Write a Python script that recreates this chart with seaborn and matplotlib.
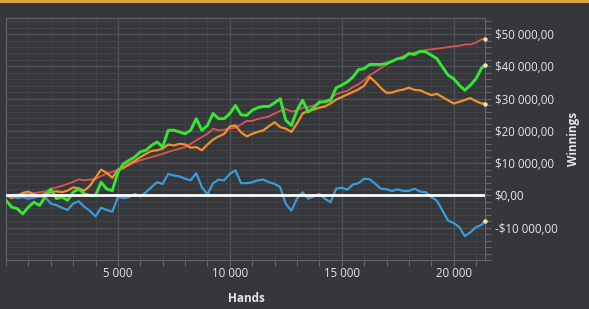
import numpy as np
import pandas as pd
import matplotlib
matplotlib.use("Agg")
import matplotlib.pyplot as plt
import matplotlib.ticker as mticker
import seaborn as sns

# Hands played (x axis), sampled every 250 hands
hands = list(range(0, 21500, 250)) + [21400]

red = [0, 200, 300, 500, 600, 700, 1000, 1200, 2000, 2500, 3000, 3600, 4200, 5000, 4700, 4900,
       5200, 6000, 6800, 7300, 8000, 8800, 9300, 10300, 10900, 11400, 11900, 12400, 12900, 13500,
       14000, 14500, 15000, 16000, 17100, 18100, 19100, 20700, 20200, 20400, 20700, 21000, 22000,
       23100, 23100, 23700, 24100, 24500, 25400, 26200, 26800, 26000, 26400, 27200, 27400, 27900,
       28500, 29300, 30000, 31400, 32000, 32400, 33600, 34500, 35700, 37300, 38300, 39500, 40600,
       41600, 42400, 43200, 43700, 44300, 44700, 45100, 45300, 45500, 45700, 46000, 46200, 46400,
       46800, 46800, 47400, 48400, 48600]

green = [-1500, -3600, -4100, -5700, -3600, -2100, -3100, -500, 2000, -1000, -500, -1500, 1000,
         2000, 500, 0, 0, 4100, 2000, 1500, 7200, 9800, 10900, 11900, 13500, 14000, 15500, 16600,
         15000, 20200, 20200, 19700, 19100, 20200, 23800, 20200, 21700, 25400, 23800, 23800, 25400,
         27900, 25000, 24800, 26400, 27200, 27600, 27600, 28700, 30000, 23300, 21700, 26400, 29500,
         25900, 27200, 29000, 29000, 29500, 33400, 34200, 35200, 36700, 39000, 39300, 40600, 40600,
         40600, 40900, 41600, 42400, 42600, 44000, 43700, 44700, 44500, 43500, 42400, 39800, 37300,
         36200, 34200, 32600, 34200, 36200, 39500, 40400]

orange = [0, -800, -300, 800, 1200, 300, -200, 600, 1000, 1300, 1000, 1500, 2500, 2200, 1500,
          3000, 5500, 8000, 7000, 5500, 8000, 8500, 9800, 10700, 11900, 12900, 13800, 14000, 14500,
          15800, 15500, 16000, 15800, 14800, 15000, 14000, 15800, 17300, 18300, 19100, 21400, 21700,
          19600, 18300, 19100, 19700, 20200, 21500, 22700, 21200, 20700, 19700, 22300, 25400, 26200,
          26600, 27200, 27600, 28500, 29700, 30500, 31300, 32100, 32900, 34000, 36700, 35200, 33300,
          31800, 31900, 32500, 32800, 33400, 32700, 32600, 31800, 31100, 31500, 30500, 29500, 28500,
          29000, 29600, 30200, 29200, 28500, 28500]

blue = [0, -300, -800, -500, -1000, -600, -300, -500, -2500, -3000, -3800, -4500, -2500, -1800,
        -3500, -4800, -6500, -3800, -4500, -5000, -500, -800, -500, 500, -300, 1000, 2600, 4100,
        3600, 6700, 6200, 5900, 5200, 4700, 6900, 2600, 300, 3800, 4900, 4700, 6700, 7800, 3800,
        3800, 4100, 4700, 4900, 4100, 3600, 2600, -2600, -4700, -1000, 1000, -1000, -300, 500,
        -1000, -2100, 2100, 2400, 1800, 3400, 3800, 5200, 5000, 3600, 2100, 1900, 1400, 1900, 1400,
        1400, 2100, 1200, 1000, -500, -1600, -4700, -7800, -8500, -9800, -12600, -11400, -9800,
        -9100, -7800]

BG = '#35373b'
TEXT = '#e6e6e6'
COLORS = {'red': '#dc5552', 'orange': '#f0912e', 'blue': '#3a9bdc', 'green': '#35e635'}
WIDTHS = {'red': 1.3, 'orange': 1.6, 'blue': 1.6, 'green': 2.1}

sns.set_theme(style="dark")
plt.rcParams['font.family'] = ['Open Sans', 'DejaVu Sans']

df = pd.DataFrame({'hands': hands, 'red': red, 'green': green, 'orange': orange, 'blue': blue})
long_df = df.melt(id_vars='hands', var_name='player', value_name='winnings')

fig = plt.figure(figsize=(5.89, 3.09), dpi=100, facecolor=BG)
ax = fig.add_axes([6 / 589, 1 - 260 / 309, 479 / 589, 242 / 309])
ax.set_facecolor(BG)

for name in ['red', 'orange', 'blue', 'green']:
    sub = long_df[long_df['player'] == name]
    sns.lineplot(data=sub, x='hands', y='winnings', color=COLORS[name],
                 linewidth=WIDTHS[name], ax=ax, zorder=3)
    # end point marker
    ax.scatter(sub['hands'].iloc[-1], sub['winnings'].iloc[-1], s=10, color='#f4e4a6',
               zorder=6, linewidths=0, clip_on=False)

ax.axhline(0, color='white', linewidth=2.0, zorder=5)

ax.set_xlim(0, 21400)
ax.set_ylim(-20000, 55000)

ax.xaxis.set_major_locator(mticker.FixedLocator([5000, 10000, 15000, 20000]))
ax.xaxis.set_minor_locator(mticker.MultipleLocator(1000))
ax.yaxis.set_major_locator(mticker.FixedLocator([-10000, 0, 10000, 20000, 30000, 40000, 50000]))
ax.yaxis.set_minor_locator(mticker.MultipleLocator(2000))


def money(v, pos=None):
    s = f"{abs(v):,.2f}".replace(',', ' ').replace('.', ',')
    return ('-$' if v < 0 else '$') + s


ax.yaxis.set_major_formatter(mticker.FuncFormatter(money))
ax.xaxis.set_major_formatter(mticker.FuncFormatter(lambda v, p: f"{int(v):,}".replace(',', ' ')))

ax.yaxis.tick_right()
ax.grid(True, which='major', color='#515458', linewidth=0.9, zorder=0)
ax.grid(True, which='minor', color='#414448', linewidth=0.7, zorder=0)
ax.tick_params(axis='both', which='both', colors='#63666a', length=4, width=0.8,
               labelcolor=TEXT, labelsize=8.3)
ax.tick_params(axis='x', which='both', bottom=True, pad=1)
ax.tick_params(axis='y', which='both', right=True, left=False, pad=3)
for lab in ax.get_yticklabels():
    lab.set_horizontalalignment('left')

for sp in ax.spines.values():
    sp.set_visible(True)
    sp.set_color('#63666a')
    sp.set_linewidth(0.8)

ax.set_xlabel('')
ax.set_ylabel('')
fig.text(246 / 589, 1 - 298 / 309, 'Hands', color=TEXT, fontsize=8.5, fontweight='bold',
         ha='center', va='center')
fig.text(573 / 589, 1 - 139 / 309, 'Winnings', color=TEXT, fontsize=8.5, fontweight='bold',
         rotation=90, ha='center', va='center')

# orange strip along the top edge
fig.patches.append(plt.Rectangle((0, 1 - 3 / 309), 1, 3 / 309, transform=fig.transFigure,
                                 facecolor='#e2a33f', edgecolor='none', zorder=10))

fig.savefig('out.png', dpi=100, facecolor=BG)
